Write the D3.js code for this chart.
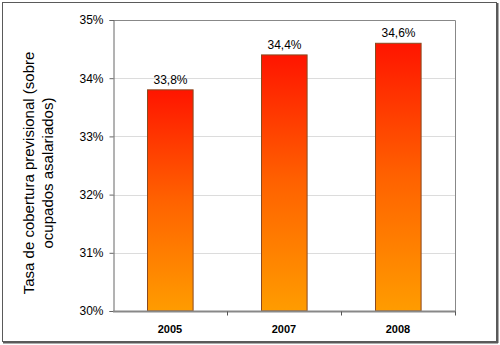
<!DOCTYPE html>
<html><head><meta charset="utf-8">
<script src="https://cdn.jsdelivr.net/npm/d3@7"></script>
<style>body{margin:0;background:#fff}svg{display:block}</style>
</head><body>
<script>
const categories = ["2005", "2007", "2008"];
const values = [33.8, 34.4, 34.6];
const valueLabels = ["33,8%", "34,4%", "34,6%"];
const yTicks = [30, 31, 32, 33, 34, 35];
const yTickLabels = ["30%", "31%", "32%", "33%", "34%", "35%"];
const yTitle = ["Tasa de cobertura previsional (sobre", "ocupados asalariados)"];

const W = 500, H = 345;
const svg = d3.select("body").append("svg").attr("width", W).attr("height", H);
const font = "Arial, 'Liberation Sans', sans-serif";

// outer frame
svg.append("rect").attr("x", 2.5).attr("y", 2.5).attr("width", 494).attr("height", 339)
  .attr("fill", "#fff").attr("stroke", "#5a5a5a").attr("stroke-width", 1);
svg.append("line").attr("x1", 497.5).attr("x2", 497.5).attr("y1", 3).attr("y2", 343)
  .attr("stroke", "#5a5a5a").attr("stroke-width", 2);
svg.append("line").attr("x1", 3).attr("x2", 498).attr("y1", 342.5).attr("y2", 342.5)
  .attr("stroke", "#5a5a5a").attr("stroke-width", 2);

const m = {l: 113, r: 455, t: 20, b: 311};
const x = d3.scaleBand().domain(categories).range([m.l, m.r]).paddingInner(0.6).paddingOuter(0.3);
const y = d3.scaleLinear().domain([30, 35]).range([m.b, m.t]);

const defs = svg.append("defs");
const g = defs.append("linearGradient").attr("id", "grad").attr("x1", 0).attr("y1", 0).attr("x2", 0).attr("y2", 1);
g.append("stop").attr("offset", "0%").attr("stop-color", "#ff1500");
g.append("stop").attr("offset", "50%").attr("stop-color", "#ff6200");
g.append("stop").attr("offset", "100%").attr("stop-color", "#ff9c00");

// gridlines
svg.append("g").selectAll("line").data(yTicks.slice(1, -1)).join("line")
  .attr("x1", m.l).attr("x2", m.r)
  .attr("y1", d => Math.round(y(d)) + 0.5).attr("y2", d => Math.round(y(d)) + 0.5)
  .attr("stroke", "#dcdcdc").attr("stroke-width", 1);

// plot border top & right
svg.append("path").attr("d", `M${m.l},${m.t + 0.5}H${m.r + 0.5}V${m.b}`)
  .attr("fill", "none").attr("stroke", "#888").attr("stroke-width", 1);

// y axis
const yAxis = d3.axisLeft(y).tickValues(yTicks).tickFormat((d, i) => yTickLabels[i]).tickSize(4).tickPadding(6);
const ya = svg.append("g").attr("transform", `translate(${m.l + 0.5},0)`).call(yAxis);
ya.select(".domain").attr("stroke", "#666");
ya.selectAll(".tick line").attr("stroke", "#666");
ya.selectAll("text").attr("font-family", font).attr("font-size", 12).attr("fill", "#000");

// bars
svg.append("g").selectAll("rect").data(values).join("rect")
  .attr("x", (d, i) => Math.round(x(categories[i])) + 0.5)
  .attr("y", d => y(d))
  .attr("width", x.bandwidth())
  .attr("height", d => y(30) - y(d))
  .attr("fill", "url(#grad)")
  .attr("stroke", "#8a4a20").attr("stroke-width", 1);

// value labels
svg.append("g").selectAll("text").data(values).join("text")
  .attr("x", (d, i) => x(categories[i]) + x.bandwidth() / 2 + 0.5)
  .attr("y", d => y(d) - 6)
  .attr("text-anchor", "middle")
  .attr("font-family", font).attr("font-size", 12).attr("fill", "#000")
  .text((d, i) => valueLabels[i]);

// x axis
const xAxisG = svg.append("g").attr("transform", `translate(0,${m.b + 0.5})`);
xAxisG.append("line").attr("x1", m.l).attr("x2", m.r + 1).attr("stroke", "#888").attr("stroke-width", 2);
const bounds = [1, 2, 3].map(k => m.l + (m.r - m.l) * k / 3);
xAxisG.selectAll(".tk").data(bounds).join("line").attr("class", "tk")
  .attr("x1", d => Math.round(d) + 0.5).attr("x2", d => Math.round(d) + 0.5)
  .attr("y1", 0).attr("y2", 4).attr("stroke", "#555");
xAxisG.selectAll("text").data(categories).join("text")
  .attr("x", d => x(d) + x.bandwidth() / 2)
  .attr("y", 21)
  .attr("text-anchor", "middle")
  .attr("font-family", font).attr("font-size", 11).attr("font-weight", "bold").attr("fill", "#000")
  .text(d => d);

// y title
const t = svg.append("text").attr("transform", "translate(34,173) rotate(-90)")
  .attr("text-anchor", "middle").attr("font-family", font).attr("font-size", 15).attr("fill", "#000");
t.selectAll("tspan").data(yTitle).join("tspan")
  .attr("x", 0).attr("dy", (d, i) => i === 0 ? 0 : 19).text(d => d);
</script>
</body></html>
